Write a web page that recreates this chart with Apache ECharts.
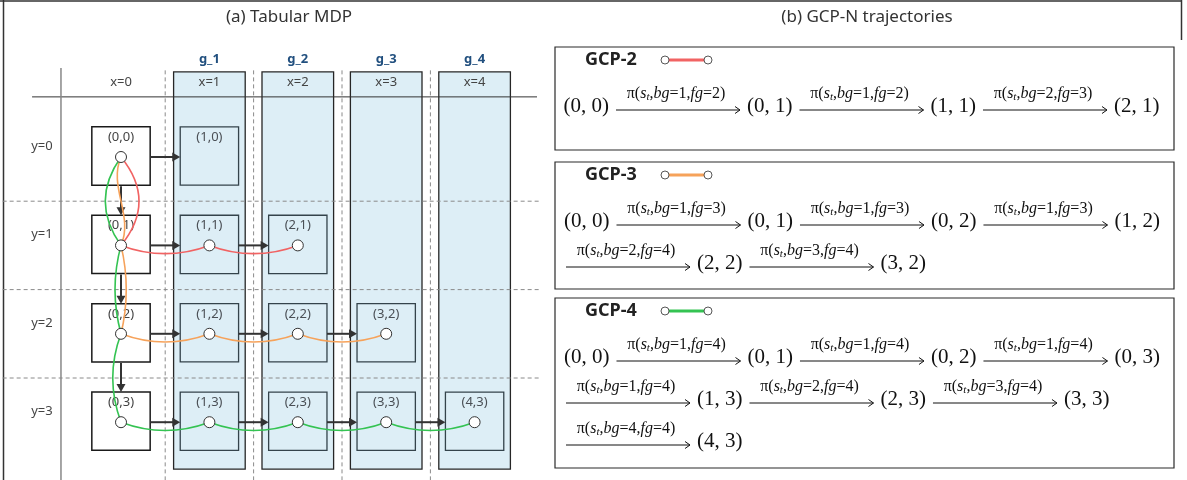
<!DOCTYPE html>
<html><head><meta charset="utf-8">
<script src="https://cdn.jsdelivr.net/npm/echarts@6/dist/echarts.min.js"></script>
<style>html,body{margin:0;padding:0;background:#fff}#c{width:1187px;height:480px}</style>
</head><body><div id="c"></div>
<script>
// ---------------- data ----------------
const xLabels = ['x=0', 'x=1', 'x=2', 'x=3', 'x=4'];
const yLabels = ['y=0', 'y=1', 'y=2', 'y=3'];
const goalColumns = [1, 2, 3, 4];
const goalLabels = ['g_1', 'g_2', 'g_3', 'g_4'];
const cells = [[0,0],[1,0],[0,1],[1,1],[2,1],[0,2],[1,2],[2,2],[3,2],[0,3],[1,3],[2,3],[3,3],[4,3]];
const nodes = [[0,0],[0,1],[1,1],[2,1],[0,2],[1,2],[2,2],[3,2],[0,3],[1,3],[2,3],[3,3],[4,3]];
const rightArrows = [[0,0],[0,1],[1,1],[0,2],[1,2],[2,2],[0,3],[1,3],[2,3],[3,3]];
const downArrows = [[0,0],[0,1],[0,2]];
const gcpNames = ['GCP-2', 'GCP-3', 'GCP-4'];
const gcp2Path = [[0,0],[0,1],[1,1],[2,1]];
const gcp3Path = [[0,0],[0,1],[0,2],[1,2],[2,2],[3,2]];
const gcp4Path = [[0,0],[0,1],[0,2],[0,3],[1,3],[2,3],[3,3],[4,3]];
const gcp2Actions = [[1,2],[1,2],[2,3]];            // [bg, fg]
const gcp3Actions = [[1,3],[1,3],[1,3],[2,4],[3,4]];
const gcp4Actions = [[1,4],[1,4],[1,4],[1,4],[2,4],[3,4],[4,4]];
const titleA = '(a) Tabular MDP';
const titleB = '(b) GCP-N trajectories';

// ---------------- layout / style ----------------
const paths = [gcp2Path, gcp3Path, gcp4Path];
const actionSets = [gcp2Actions, gcp3Actions, gcp4Actions];
const pathColors = ['#f16363', '#f6a25a', '#34c352'];
const U = 88.4, OX = 121, OY = 157;
const X_MIN = -OX / U, X_MAX = (540 - OX) / U, Y_MIN = -OY / U, Y_MAX = (480 - OY) / U;
const CELL = 0.66;
const SANS = '"Noto Sans", "Open Sans", sans-serif';
const SERIF = '"Liberation Serif", "DejaVu Serif", serif';

function bendFor(k, x0, y0, x1, y1) {
  if (y0 === y1) return [11, 11];
  const vb = {'0:0': [24, 24], '1:0': [-13, 13], '2:0': [-21, -21], '1:1': [7, 7], '2:1': [-8, -8], '2:2': [-11, -11]};
  return vb[k + ':' + y0] || [0, 0];
}
function ln(a, b, style) {
  return {type: 'line', shape: {x1: a[0], y1: a[1], x2: b[0], y2: b[1]}, style: style};
}
function txt(p, text, font, fill, align) {
  return {type: 'text', x: p[0], y: p[1], style: {text: text, font: font, fill: fill, align: align || 'center', verticalAlign: 'middle'}};
}

const trajSegs = [];
paths.forEach((p, k) => { for (let i = 0; i < p.length - 1; i++) trajSegs.push([p[i][0], p[i][1], p[i+1][0], p[i+1][1], k]); });
const arrowData = rightArrows.map(a => [a[0], a[1], 0]).concat(downArrows.map(a => [a[0], a[1], 1]));

// right panel measurement
const mctx = document.createElement('canvas').getContext('2d');
function tw(t, font) { mctx.font = font; return mctx.measureText(t).width; }
const STATE_FONT = '21px ' + SERIF;
const BOX_L = 555, BOX_R = 1174;
const boxTops = [47, 162, 298], boxBots = [150, 289, 468];
const ARROW_W = 124, GAP = 7, PAD = 9;

function actionRich(a) {
  return '{n|π(}{i|s}{s|t}{n|,}{i|bg}{n|=' + a[0] + ',}{i|fg}{n|=' + a[1] + ')}';
}
const richStyles = {
  n: {fontFamily: 'Liberation Serif', fontSize: 16, lineHeight: 18, fill: '#111'},
  i: {fontFamily: 'Liberation Serif', fontSize: 16, fontStyle: 'italic', lineHeight: 18, fill: '#111'},
  s: {fontFamily: 'Liberation Serif', fontSize: 11, fontStyle: 'italic', lineHeight: 18, verticalAlign: 'bottom', fill: '#111'}
};

function renderPanel(params, api) {
  const k = api.value(0);
  const path = paths[k], acts = actionSets[k];
  const top = boxTops[k], bot = boxBots[k];
  const ch = [];
  ch.push({type: 'rect', shape: {x: BOX_L, y: top, width: BOX_R - BOX_L, height: bot - top}, style: {fill: '#fff', stroke: '#2a2a2a', lineWidth: 1.2}});
  const ty = top + 13;
  ch.push(txt([BOX_L + 30, ty], gcpNames[k], 'bold 18px ' + SANS, '#222', 'left'));
  ch.push(ln([BOX_L + 110, ty], [BOX_L + 153, ty], {stroke: pathColors[k], lineWidth: 3}));
  ch.push({type: 'circle', shape: {cx: BOX_L + 110, cy: ty, r: 4}, style: {fill: '#fff', stroke: '#444', lineWidth: 0.9}});
  ch.push({type: 'circle', shape: {cx: BOX_L + 153, cy: ty, r: 4}, style: {fill: '#fff', stroke: '#444', lineWidth: 0.9}});

  const states = path.map(p => '(' + p[0] + ', ' + p[1] + ')');
  const sw = states.map(s => tw(s, STATE_FONT));
  const maxW = (BOX_R - BOX_L) - 2 * PAD + 4;
  const rows = [];
  let row = [{t: 's', i: 0, x: 0}], x = sw[0];
  for (let i = 1; i < states.length; i++) {
    const need = GAP + ARROW_W + GAP + sw[i];
    if (x + need > maxW) {
      rows.push({items: row, w: x});
      row = [{t: 'a', i: i - 1, x: 0}, {t: 's', i: i, x: ARROW_W + GAP}];
      x = ARROW_W + GAP + sw[i];
    } else {
      row.push({t: 'a', i: i - 1, x: x + GAP});
      row.push({t: 's', i: i, x: x + GAP + ARROW_W + GAP});
      x += need;
    }
  }
  rows.push({items: row, w: x});
  rows.forEach((r, ri) => {
    const ry = top + 59 + ri * 42;
    const x0 = rows.length === 1 ? (BOX_L + BOX_R) / 2 - r.w / 2 - 3 : BOX_L + PAD + (ri > 0 ? 2 : 0);
    r.items.forEach(it => {
      if (it.t === 's') {
        ch.push(txt([x0 + it.x, ry], states[it.i], STATE_FONT, '#111', 'left'));
      } else {
        const ax = x0 + it.x, ay = ry + 4;
        ch.push(ln([ax, ay], [ax + ARROW_W, ay], {stroke: '#111', lineWidth: 1}));
        ch.push({type: 'polyline', shape: {points: [[ax + ARROW_W - 5, ay - 3.5], [ax + ARROW_W, ay], [ax + ARROW_W - 5, ay + 3.5]]}, style: {stroke: '#111', lineWidth: 1, fill: 'none'}});
        ch.push({type: 'text', x: ax + ARROW_W / 2 - 2, y: ry - 12, style: {text: actionRich(acts[it.i]), rich: richStyles, align: 'center', verticalAlign: 'middle', fill: '#111'}});
      }
    });
  });
  return {type: 'group', children: ch};
}

const chart = echarts.init(document.getElementById('c'), null, {renderer: 'canvas'});
chart.setOption({
  animation: false,
  backgroundColor: '#fff',
  title: [
    {text: titleA, left: 284, top: 4, textAlign: 'center', textStyle: {fontSize: 17, fontWeight: 'normal', color: '#333', fontFamily: 'Noto Sans'}},
    {text: titleB, left: 862, top: 4, textAlign: 'center', textStyle: {fontSize: 17, fontWeight: 'normal', color: '#333', fontFamily: 'Noto Sans'}}
  ],
  graphic: [
    {type: 'line', shape: {x1: 3.5, y1: 0, x2: 3.5, y2: 480}, style: {stroke: '#333', lineWidth: 1.5}},
    {type: 'line', shape: {x1: 0, y1: 1, x2: 1182, y2: 1}, style: {stroke: '#333', lineWidth: 1.5}},
    {type: 'line', shape: {x1: 1181.5, y1: 0, x2: 1181.5, y2: 40}, style: {stroke: '#333', lineWidth: 1.5}}
  ],
  grid: {left: 0, top: 0, width: 540, height: 480},
  xAxis: {type: 'value', min: X_MIN, max: X_MAX, show: false},
  yAxis: {type: 'value', min: Y_MIN, max: Y_MAX, inverse: true, show: false},
  series: [
    { // goal columns
      type: 'custom', z: 1, silent: true, data: goalColumns.map((c, i) => [c, i]), encode: {x: 0, y: 1},
      renderItem(p, api) {
        const c = api.value(0), i = api.value(1);
        const a = api.coord([c - 0.405, -0.962]), b = api.coord([c + 0.405, 3.53]);
        return {type: 'group', children: [
          {type: 'rect', shape: {x: a[0], y: a[1], width: b[0] - a[0], height: b[1] - a[1]}, style: {fill: '#ddeef6', stroke: '#262626', lineWidth: 1.3}},
          txt(api.coord([c, -1.11]), goalLabels[i], 'bold 13px ' + SANS, '#22507f')
        ]};
      }
    },
    { // guide lines and axis labels
      type: 'custom', z: 2, silent: true, data: [[0, 0]], encode: {x: 0, y: 1},
      renderItem(p, api) {
        const ch = [];
        const dash = {stroke: '#8a8a8a', lineWidth: 1, lineDash: [4, 3]};
        for (let k = 0; k < xLabels.length - 1; k++) ch.push(ln(api.coord([k + 0.5, -0.98]), api.coord([k + 0.5, Y_MAX]), dash));
        for (let k = 0; k < yLabels.length - 1; k++) ch.push(ln(api.coord([X_MIN + 0.03, k + 0.5]), api.coord([X_MAX, k + 0.5]), dash));
        ch.push(ln(api.coord([-1.006, -0.68]), api.coord([4.706, -0.68]), {stroke: '#333', lineWidth: 1}));
        ch.push(ln(api.coord([-0.679, -1.007]), api.coord([-0.679, Y_MAX]), {stroke: '#888', lineWidth: 1.5}));
        xLabels.forEach((l, i) => ch.push(txt(api.coord([i, -0.85]), l, '13px ' + SANS, '#444')));
        yLabels.forEach((l, j) => ch.push(txt(api.coord([-0.894, j - 0.12]), l, '13px ' + SANS, '#444')));
        return {type: 'group', children: ch};
      }
    },
    { // cells
      type: 'custom', z: 3, silent: true, data: cells, encode: {x: 0, y: 1},
      renderItem(p, api) {
        const x = api.value(0), y = api.value(1);
        const c = api.coord([x, y]), s = api.size([CELL, CELL]);
        const goal = x > 0;
        return {type: 'group', children: [
          {type: 'rect', shape: {x: c[0] - s[0] / 2, y: c[1] - s[1] / 2 - 1, width: s[0], height: s[1]},
           style: {fill: goal ? '#ddeef6' : '#fff', stroke: goal ? '#34434b' : '#1a1a1a', lineWidth: goal ? 1.3 : 1.5}},
          txt(api.coord([x, y - 0.226]), '(' + x + ',' + y + ')', '13px ' + SANS, goal ? '#4a4f55' : '#444')
        ]};
      }
    },
    { // transition arrows
      type: 'custom', z: 4, silent: true, data: arrowData, encode: {x: 0, y: 1},
      renderItem(p, api) {
        const x = api.value(0), y = api.value(1), d = api.value(2);
        const c = api.coord([x, y]), h = api.size([CELL, CELL])[0] / 2;
        let s, t, head;
        if (d === 0) {
          const n = api.coord([x + 1, y]);
          s = [c[0] + h, c[1]]; t = [n[0] - h, n[1]];
          head = [[t[0] - 8, t[1] - 4.5], t, [t[0] - 8, t[1] + 4.5]];
          t = [t[0] - 7, t[1]];
        } else {
          const n = api.coord([x, y + 1]);
          s = [c[0], c[1] + h]; t = [n[0], n[1] - h - 1];
          head = [[t[0] - 4.5, t[1] - 8], t, [t[0] + 4.5, t[1] - 8]];
          t = [t[0], t[1] - 7];
        }
        return {type: 'group', children: [
          ln(s, t, {stroke: '#333', lineWidth: 2}),
          {type: 'polygon', shape: {points: head}, style: {fill: '#333'}}
        ]};
      }
    },
    { // trajectories
      type: 'custom', z: 5, silent: true, data: trajSegs, encode: {x: [0, 2], y: [1, 3]},
      renderItem(p, api) {
        const x0 = api.value(0), y0 = api.value(1), x1 = api.value(2), y1 = api.value(3), k = api.value(4);
        const a = api.coord([x0, y0]), b = api.coord([x1, y1]);
        const bd = bendFor(k, x0, y0, x1, y1);
        let c1, c2;
        if (y0 === y1) { const dx = b[0] - a[0]; c1 = [a[0] + dx / 3, a[1] + bd[0]]; c2 = [a[0] + 2 * dx / 3, a[1] + bd[1]]; }
        else { const dy = b[1] - a[1]; c1 = [a[0] + bd[0], a[1] + dy / 3]; c2 = [a[0] + bd[1], a[1] + 2 * dy / 3]; }
        return {type: 'bezierCurve', shape: {x1: a[0], y1: a[1], x2: b[0], y2: b[1], cpx1: c1[0], cpy1: c1[1], cpx2: c2[0], cpy2: c2[1]},
                style: {stroke: pathColors[k], lineWidth: 1.6, fill: 'none'}};
      }
    },
    { // state nodes
      type: 'scatter', z: 6, silent: true, data: nodes, symbol: 'circle', symbolSize: 11,
      itemStyle: {color: '#fff', borderColor: '#333', borderWidth: 1, opacity: 1}
    },
    { // right panel trajectories
      type: 'custom', coordinateSystem: 'none', z: 7, silent: true, data: [[0], [1], [2]],
      renderItem: renderPanel
    }
  ]
});
</script>
</body></html>
